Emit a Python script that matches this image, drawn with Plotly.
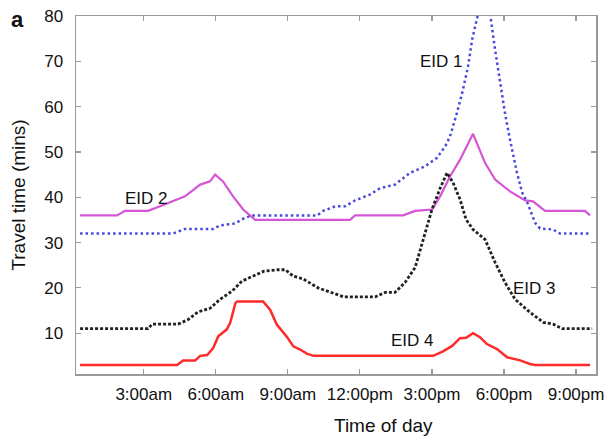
import plotly.graph_objects as go

# ---- data (time of day in hours, travel time in minutes) ----
eid1_t = [0.35, 4.22, 4.72, 5.89, 6.18, 6.80, 7.22, 7.55, 10.22, 10.47, 10.97, 11.38, 11.80, 12.42,
          12.84, 13.46, 14.09, 14.71, 15.21, 15.55, 15.75, 16.04, 16.29, 16.50, 16.67, 16.92, 17.17,
          17.42, 17.63, 17.84, 18.04, 18.25, 18.54, 18.76, 18.96, 19.29, 19.50, 20.04, 20.33, 21.58]
eid1_v = [32, 32, 33, 33, 33.8, 34.2, 35.5, 36, 36, 37, 38, 38, 39.3, 40.6,
          42, 42.8, 45.4, 46.8, 48.7, 51.2, 53.4, 58.6, 63.7, 68.8, 74.7, 80.5, 84,
          80.5, 72.5, 65.2, 58.6, 52.7, 45.4, 41, 39, 34.4, 33.1, 32.9, 32, 32]

eid2_t = [0.35, 1.89, 2.22, 3.18, 3.68, 4.22, 4.72, 5.35, 5.76, 5.97, 6.30, 6.72, 7.14, 7.64,
          11.59, 11.80, 13.80, 14.30, 15.00, 15.34, 15.75, 16.17, 16.71, 17.21, 17.63, 18.25,
          18.88, 19.21, 19.71, 21.37, 21.58]
eid2_v = [36, 36, 37, 37, 38, 39.1, 40.2, 42.8, 43.5, 45, 43.5, 40.2, 37.3, 35,
          35, 36, 36, 37, 37.3, 40.2, 44.6, 48.3, 54, 47.6, 43.9, 41.3,
          39.3, 39.1, 37, 37, 36]

eid3_t = [0.35, 3.18, 3.35, 4.43, 4.85, 5.26, 5.76, 6.18, 6.68, 7.09, 7.51, 8.01, 8.59, 8.90,
          9.22, 9.63, 10.26, 10.76, 11.34, 12.63, 13.05, 13.46, 13.88, 14.30, 14.63, 15.00,
          15.34, 15.63, 15.88, 16.17, 16.42, 16.71, 17.21, 17.63, 18.04, 18.46, 19.08, 19.63,
          20.04, 20.42, 21.67]
eid3_v = [11, 11, 12, 12, 13, 14.7, 15.5, 17.5, 19.3, 21.5, 22.5, 23.7, 24, 24,
          22.6, 22, 20, 19.1, 18, 18, 19, 19, 21.2, 24.5, 30.7, 37.3,
          42, 45.4, 43.2, 39.5, 35.1, 32.9, 30.7, 25.6, 21.2, 17.5, 14.6, 12.4,
          12, 11, 11]

eid4_t = [0.35, 4.39, 4.64, 5.14, 5.35, 5.64, 5.89, 6.10, 6.45, 6.60, 6.82, 6.89, 7.97, 8.26,
          8.54, 8.96, 9.23, 9.51, 9.79, 10.07, 15.05, 15.46, 15.84, 16.17, 16.42, 16.71, 17.00,
          17.29, 17.71, 18.13, 18.67, 19.08, 19.29, 21.58]
eid4_v = [3, 3, 4, 4, 5, 5.2, 6.7, 9.3, 10.8, 12.3, 16.7, 17, 17, 15.2,
          11.9, 9.2, 7.1, 6.4, 5.5, 5, 5, 6, 7.2, 8.9, 9, 10, 9.1,
          7.6, 6.5, 4.7, 4.0, 3.2, 3, 3]

tick_hours = [3, 6, 9, 12, 15, 18, 21]
tick_labels = ["3:00am", "6:00am", "9:00am", "12:00pm", "3:00pm", "6:00pm", "9:00pm"]
y_ticks = [10, 20, 30, 40, 50, 60, 70, 80]

labels = ["EID 1", "EID 2", "EID 3", "EID 4"]
label_t = [15.38, 3.10, 19.25, 14.21]
label_v = [69.9, 39.7, 19.8, 8.35]

FONT = "Liberation Sans, Arial, Helvetica, sans-serif"
TXT = "#111111"

fig = go.Figure()
fig.add_trace(go.Scatter(x=eid2_t, y=eid2_v, mode="lines", name="EID 2",
                         line=dict(color="#d555d5", width=2.2)))
fig.add_trace(go.Scatter(x=eid1_t, y=eid1_v, mode="lines", name="EID 1",
                         line=dict(color="#4848dc", width=2.5, dash="2.5px,3px")))
fig.add_trace(go.Scatter(x=eid3_t, y=eid3_v, mode="lines", name="EID 3",
                         line=dict(color="#222222", width=2.8, dash="3px,2px")))
fig.add_trace(go.Scatter(x=eid4_t, y=eid4_v, mode="lines", name="EID 4",
                         line=dict(color="#ff2a2a", width=2.5)))

for txt, tx, ty in zip(labels, label_t, label_v):
    fig.add_annotation(x=tx, y=ty, text=txt, showarrow=False,
                       font=dict(family=FONT, size=17, color=TXT))

fig.add_annotation(xref="paper", yref="paper", x=-0.113, y=0.99, text="<b>a</b>",
                   showarrow=False, xanchor="center", yanchor="middle",
                   font=dict(family=FONT, size=22, color=TXT))

# x-axis title (offset to the right as in the reference)
fig.add_annotation(xref="paper", yref="paper", x=0.592, y=-0.1425, text="Time of day",
                   showarrow=False, xanchor="center", yanchor="middle",
                   font=dict(family=FONT, size=19, color=TXT))

axis_common = dict(showline=True, linecolor="#9a9a9a", linewidth=1.5, mirror="ticks",
                   ticks="inside", ticklen=5, tickcolor="#9a9a9a", tickwidth=1.2,
                   showgrid=False, zeroline=False,
                   tickfont=dict(family=FONT, size=17, color=TXT))

fig.update_xaxes(range=[0.18, 21.83], tickvals=tick_hours, ticktext=tick_labels,
                 ticklabelstandoff=4, **axis_common)
fig.update_yaxes(range=[1, 80], tickvals=y_ticks,
                 title=dict(text="Travel time (mins)", font=dict(family=FONT, size=19, color=TXT),
                            standoff=13),
                 ticklabelstandoff=8, **axis_common)

fig.update_layout(width=607, height=438, plot_bgcolor="white", paper_bgcolor="white",
                  showlegend=False, hovermode=False,
                  margin=dict(l=76, r=11, t=16, b=64, autoexpand=False))

# remove the browser's default page margin so the figure sits at the window origin
fig.write_html("out.html", config={"displayModeBar": False, "staticPlot": True},
               post_script="document.body.style.margin='0';")
